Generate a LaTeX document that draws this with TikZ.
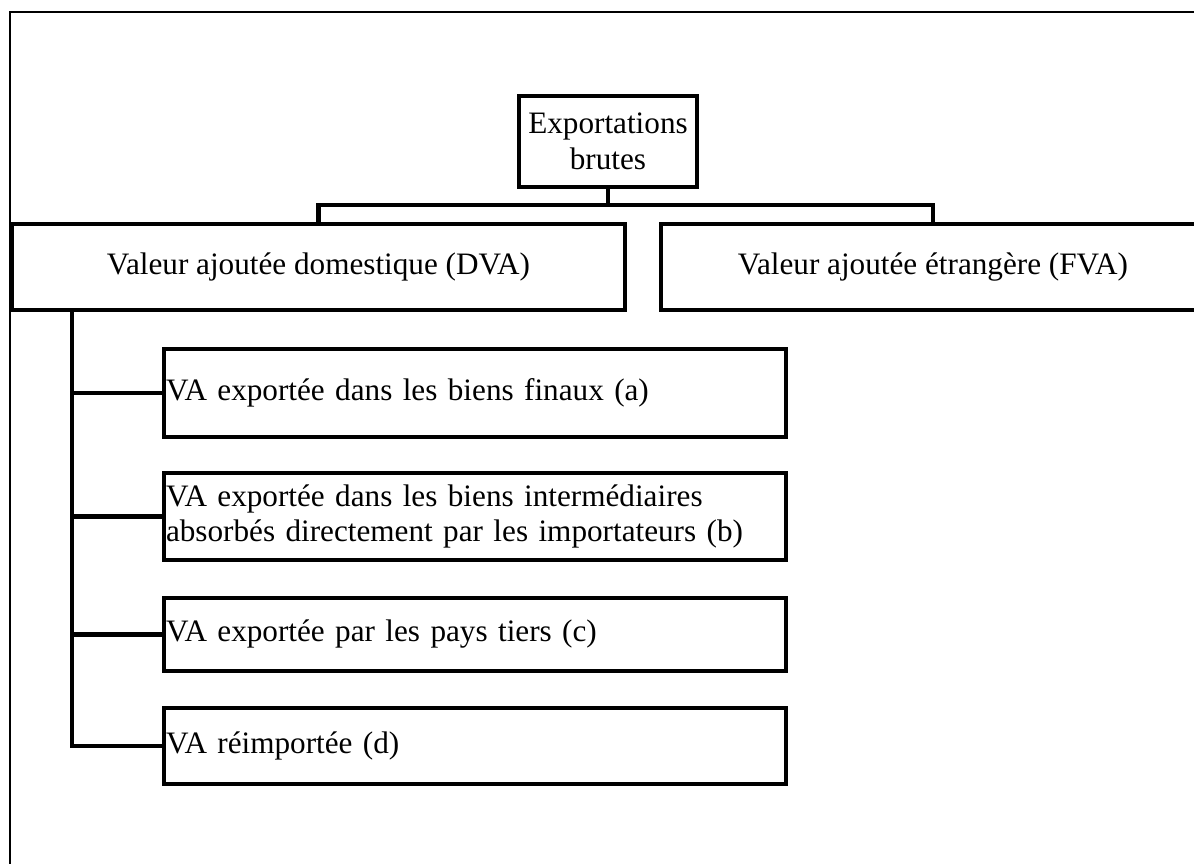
\documentclass[tikz,border=0pt]{standalone}
\usepackage{fontspec}
\setmainfont{Liberation Serif}
\begin{document}
\begin{tikzpicture}[x=0.5pt,y=-0.5pt,
  box/.style={draw, line width=2.3pt, inner sep=0pt, font=\fontsize{15.6}{17.8}\selectfont},
  subbox/.style={box, text width=309pt, inner xsep=1pt, align=left},
  conn/.style={line width=2.1pt},
  frameline/.style={line width=0.8pt}]
\useasboundingbox (0,0) rectangle (1194,863);
\draw[frameline] (1210,12) -- (10,12) -- (10,880);
\node[box, minimum width=89pt, minimum height=45.5pt, align=center] (exp) at (608,141.5) {Exportations\\brutes};
\node[box, minimum width=306.5pt, minimum height=43pt] (dva) at (318.5,267) {Valeur ajoutée domestique (DVA)};
\node[box, minimum width=272pt, minimum height=43pt] (fva) at (933,267) {Valeur ajoutée étrangère (FVA)};
\node[subbox, minimum height=44pt] (a) at (475,393) {VA exportée dans les biens finaux (a)};
\node[subbox, minimum height=43.5pt] (b) at (475,516.5) {VA exportée dans les biens intermédiaires\\absorbés directement par les importateurs (b)};
\node[subbox, minimum height=36.5pt] (c) at (475,634.5) {VA exportée par les pays tiers (c)};
\node[subbox, minimum height=38pt] (d) at (475,746) {VA réimportée (d)};
\coordinate (j) at (608,205);
\coordinate (trunk) at (72,0);
\draw[conn] (exp.south) -- (j);
\draw[conn] (dva.north) |- (j) -| (fva.north);
\draw[conn] (dva.south -| trunk) |- (d.west);
\draw[conn] (a.west) -- (a.west -| trunk);
\draw[conn] (b.west) -- (b.west -| trunk);
\draw[conn] (c.west) -- (c.west -| trunk);
\end{tikzpicture}
\end{document}
